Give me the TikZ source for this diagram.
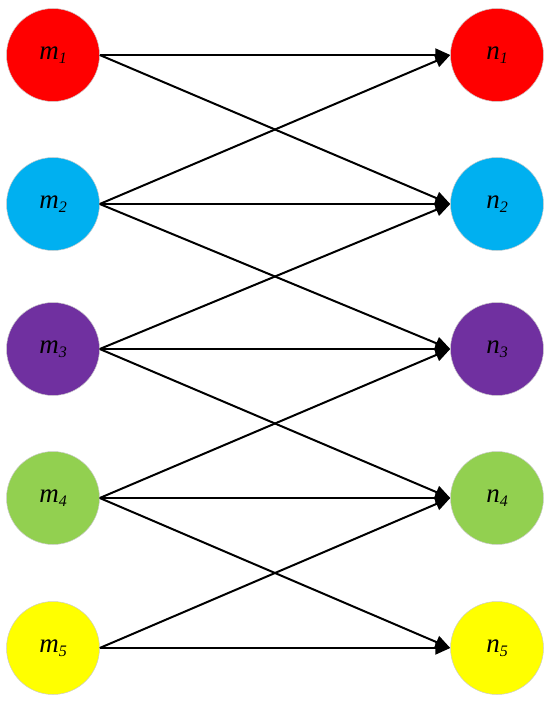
\documentclass[tikz,border=0pt]{standalone}
\usepackage{fontspec}
\setmainfont{Liberation Serif}
\usetikzlibrary{arrows.meta}
\definecolor{cred}{RGB}{255,0,0}
\definecolor{cblue}{RGB}{0,176,240}
\definecolor{cpurple}{RGB}{112,48,160}
\definecolor{cgreen}{RGB}{146,208,80}
\definecolor{cyellow}{RGB}{255,255,0}
\newcommand{\lbl}[2]{\raisebox{-3pt}{\fontsize{27}{30}\selectfont\itshape #1\raisebox{-4pt}{\fontsize{16}{18}\selectfont #2}}}
\begin{document}
\begin{tikzpicture}[x=1pt,y=-1pt,
  vert/.style={circle,minimum size=93pt,inner sep=0pt,draw=black!20,line width=0.5pt},
  link/.style={line width=2pt,-{Triangle[length=15pt,width=13pt]}}]
\useasboundingbox (0,0) rectangle (550,703);
\foreach \i/\c/\y in {1/cred/55,2/cblue/204,3/cpurple/349,4/cgreen/498,5/cyellow/648}{
  \node[vert,fill=\c] (m\i) at (53,\y) {\lbl{m}{\i}};
  \node[vert,fill=\c] (n\i) at (497,\y) {\lbl{n}{\i}};
}
\foreach \a/\b in {1/1,1/2,2/1,2/2,2/3,3/2,3/3,3/4,4/3,4/4,4/5,5/4,5/5}{
  \draw[link] (m\a.east) -- (n\b.west);
}
\end{tikzpicture}
\end{document}
